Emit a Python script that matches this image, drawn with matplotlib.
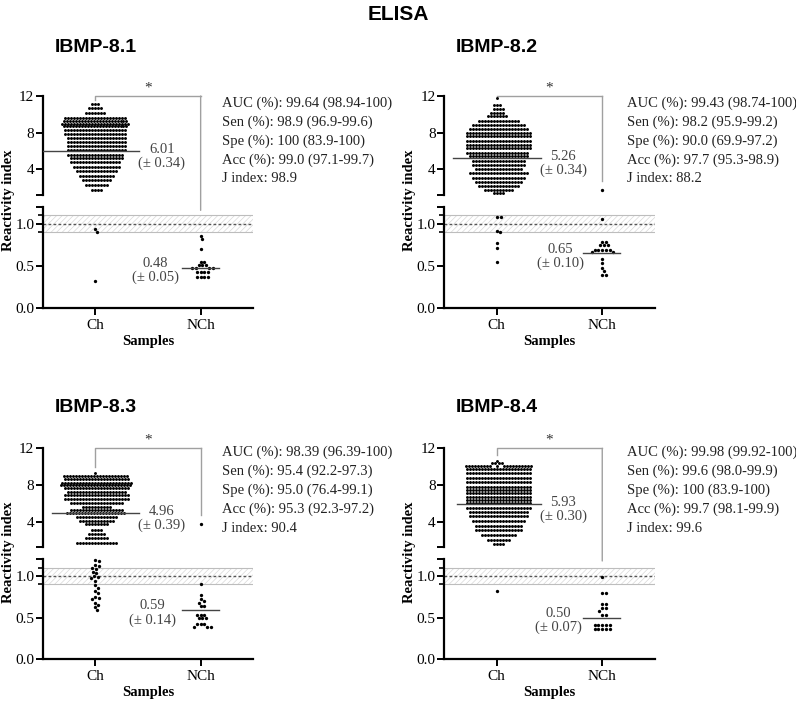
import numpy as np
import matplotlib
matplotlib.use("Agg")
import matplotlib.pyplot as plt
from matplotlib.patches import ConnectionPatch

W, H, DPI = 796, 702, 100
SERIF = ["Liberation Serif", "DejaVu Serif"]
SANS = ["Liberation Sans", "DejaVu Sans"]

TITLES = ["IBMP-8.1", "IBMP-8.2", "IBMP-8.3", "IBMP-8.4"]
GROUPS = ["Ch", "NCh"]

# Ch dots in the upper (broken) axis, read as rows: value level -> number of dots
CH1_LEVELS = [11.1, 10.7, 10.2, 9.6, 9.3, 9.0, 8.7, 8.3, 7.9, 7.4, 7.0, 6.5, 6.1,
              5.6, 5.2, 4.8, 4.3, 3.8, 3.3, 2.8, 2.3, 1.8]
CH1_COUNTS = [3, 5, 7, 21, 22, 23, 22, 21, 21, 20, 20, 20, 20, 19, 18, 17, 16, 14,
              12, 10, 8, 4]
CH2_LEVELS = [11.8, 11.05, 10.6, 10.2, 9.8, 9.25, 8.8, 8.4, 8.0, 7.6, 7.1, 6.7, 6.3,
              5.8, 5.45, 4.9, 4.5, 4.0, 3.55, 3.1, 2.65, 2.2, 1.8, 1.45]
CH2_COUNTS = [1, 3, 4, 5, 7, 14, 18, 20, 22, 22, 22, 22, 22, 21, 20, 18, 18, 16, 20,
              18, 16, 14, 10, 4]
CH3_LEVELS = [9.27, 8.98, 8.6, 8.25, 7.96, 7.64, 7.27, 6.9, 6.44, 6.0, 5.63, 5.27,
              4.98, 4.54, 4.1, 3.71, 3.1, 2.65, 2.2, 1.64]
CH3_COUNTS = [1, 22, 22, 24, 24, 22, 20, 22, 22, 18, 10, 18, 20, 14, 12, 8, 4, 6, 8, 14]
CH4_LEVELS = [10.6, 10.35, 10.1, 9.74, 9.27, 8.8, 8.3, 7.8, 7.45, 7.1, 6.7, 6.36, 6.0,
              5.52, 5.1, 4.6, 4.1, 3.56, 3.1, 2.55, 2.0, 1.53]
CH4_COUNTS = [1, 4, 20, 22, 22, 22, 22, 22, 22, 22, 22, 22, 22, 22, 20, 20, 18, 16,
              16, 12, 8, 4]

# Ch dots below the break
CH1_LOW = [0.94, 0.90, 0.32]
CH2_LOW = [1.08, 1.08, 0.91, 0.90, 0.77, 0.71, 0.55]
CH3_LOW = [1.19, 1.18, 1.13, 1.12, 1.10, 1.08, 1.05, 1.03, 1.00, 0.99, 0.97, 0.94,
           0.89, 0.86, 0.82, 0.79, 0.75, 0.73, 0.72, 0.68, 0.65, 0.63, 0.59]
CH4_LOW = [0.82]

# NCh sera
NCH1 = [0.86, 0.82, 0.70, 0.55, 0.55, 0.51, 0.51, 0.51, 0.48, 0.48, 0.48, 0.48,
        0.43, 0.43, 0.43, 0.43, 0.37, 0.37, 0.37, 0.37]
NCH2 = [1.80, 1.06, 0.79, 0.79, 0.75, 0.75, 0.75, 0.69, 0.69, 0.69, 0.69, 0.69,
        0.66, 0.66, 0.58, 0.53, 0.48, 0.44, 0.39, 0.39]
NCH3 = [3.72, 0.90, 0.77, 0.72, 0.70, 0.68, 0.64, 0.64, 0.53, 0.53, 0.53, 0.49,
        0.49, 0.49, 0.42, 0.42, 0.42, 0.39, 0.39, 0.39]
NCH4 = [0.99, 0.80, 0.80, 0.66, 0.66, 0.61, 0.61, 0.58, 0.53, 0.53, 0.41, 0.41,
        0.41, 0.41, 0.41, 0.36, 0.36, 0.36, 0.36, 0.36]

CH_MEAN = [6.01, 5.26, 4.96, 5.93]
CH_SEM = [0.34, 0.34, 0.39, 0.30]
NCH_MEAN = [0.48, 0.65, 0.59, 0.50]
NCH_SEM = [0.05, 0.10, 0.14, 0.07]
CUTOFF = 1.0
GRAY_ZONE = (0.9, 1.1)

STATS = [
    ["AUC (%): 99.64 (98.94-100)", "Sen (%): 98.9 (96.9-99.6)",
     "Spe (%): 100 (83.9-100)", "Acc (%): 99.0 (97.1-99.7)", "J index: 98.9"],
    ["AUC (%): 99.43 (98.74-100)", "Sen (%): 98.2 (95.9-99.2)",
     "Spe (%): 90.0 (69.9-97.2)", "Acc (%): 97.7 (95.3-98.9)", "J index: 88.2"],
    ["AUC (%): 98.39 (96.39-100)", "Sen (%): 95.4 (92.2-97.3)",
     "Spe (%): 95.0 (76.4-99.1)", "Acc (%): 95.3 (92.3-97.2)", "J index: 90.4"],
    ["AUC (%): 99.98 (99.92-100)", "Sen (%): 99.6 (98.0-99.9)",
     "Spe (%): 100 (83.9-100)", "Acc (%): 99.7 (98.1-99.9)", "J index: 99.6"],
]

# layout in pixels: x0, x1, upper top, upper bottom, lower top, lower bottom
BOXES = [(42.7, 253.3, 96, 195, 207, 308),
         (444, 655, 96, 195, 207, 308),
         (42.7, 253.3, 448.3, 547.3, 559.3, 659.3),
         (444, 655, 448.3, 547.3, 559.3, 659.3)]
TITLE_XY = [(96, 47), (497, 47), (96, 407), (497, 407)]
STATS_XY = [(222, 103), (627, 103), (222, 452), (627, 452)]
CH_LINE = [(-0.5, 0.41), (-0.41, 0.42), (-0.41, 0.41), (-0.38, 0.42)]
NCH_LINE = (-0.18, 0.17)
NCH_TXT_X = [0.57, 0.60, 0.54, 0.58]
DROP_CH = [11.6, 11.95, 10.0, 11.3]
DROP_NCH = [("lo", 1.16), ("up", 2.7), ("up", 4.7), ("lo", 1.18)]

UP_LIM = (1.2, 12)
LO_LIM = (0, 1.2)
XPPU = 105.5     # pixels per x unit


def swarm(vals, ppu, d):
    ys = np.asarray(vals, dtype=float) * ppu
    xs = np.zeros(len(ys))
    placed = []
    for i in np.argsort(-ys, kind="stable"):
        y = ys[i]
        near = [(xj, yj) for xj, yj in placed if abs(yj - y) < d]
        cands = [0.0]
        for xj, yj in near:
            dx = np.sqrt(d * d - (yj - y) ** 2)
            cands += [xj + dx, xj - dx]
        cands.sort(key=abs)
        for c in cands:
            if all((c - xj) ** 2 + (y - yj) ** 2 >= d * d - 1e-6 for xj, yj in near):
                xs[i] = c
                break
        placed.append((xs[i], y))
    return xs / XPPU


def rect(x0, x1, top, bot):
    return [x0 / W, 1 - bot / H, (x1 - x0) / W, (bot - top) / H]


plt.rcParams.update({"font.family": SERIF, "font.size": 10.5,
                     "hatch.linewidth": 0.5})

fig = plt.figure(figsize=(W / DPI, H / DPI), dpi=DPI)
fig.text(398 / W, 1 - 14 / H, "ELISA", family=SANS, fontweight="bold",
         fontsize=15, ha="center", va="center")

ch_levels = [CH1_LEVELS, CH2_LEVELS, CH3_LEVELS, CH4_LEVELS]
ch_counts = [CH1_COUNTS, CH2_COUNTS, CH3_COUNTS, CH4_COUNTS]
ch_low = [CH1_LOW, CH2_LOW, CH3_LOW, CH4_LOW]
nch = [NCH1, NCH2, NCH3, NCH4]
dot = dict(marker="o", ls="none", color="black", mec="none", clip_on=False, zorder=3)

for k in range(4):
    x0, x1, ut, ub, lt, lb = BOXES[k]
    ax_up = fig.add_axes(rect(x0, x1, ut, ub))
    ax_lo = fig.add_axes(rect(x0, x1, lt, lb))
    up_ppu = (ub - ut) / (UP_LIM[1] - UP_LIM[0])
    lo_ppu = (lb - lt) / (LO_LIM[1] - LO_LIM[0])

    for ax in (ax_up, ax_lo):
        ax.set_xlim(-0.5, 1.5)
        ax.patch.set_alpha(0)
        for s in ("top", "right"):
            ax.spines[s].set_visible(False)
        ax.spines["left"].set_linewidth(1.6)
        ax.spines["bottom"].set_linewidth(1.6)
        ax.tick_params(direction="out", length=5, width=1.4, labelsize=11, pad=1)

    ax_up.set_ylim(*UP_LIM)
    ax_up.spines["bottom"].set_visible(False)
    ax_up.set_xticks([])
    ax_up.set_yticks([UP_LIM[0], 4, 8, 12], ["", "4", "8", "12"])

    ax_lo.set_ylim(*LO_LIM)
    ax_lo.set_yticks([0, 0.5, 1.0, 1.2], ["0.0", "0.5", "1.0", ""])
    ax_lo.set_yticks(list(GRAY_ZONE), minor=True)
    ax_lo.tick_params(axis="y", which="minor", length=3.5, width=1.2)
    ax_lo.set_xticks([0, 1], GROUPS)
    ax_lo.tick_params(axis="x", pad=3)

    # gray zone
    ax_lo.axhspan(*GRAY_ZONE, facecolor="none", edgecolor="#d8d8d8",
                  hatch="//////", linewidth=0, zorder=0)
    for v in GRAY_ZONE:
        ax_lo.axhline(v, color="#bdbdbd", lw=0.8, zorder=1)
    ax_lo.axhline(CUTOFF, color="#555555", lw=1.0, ls=(0, (2, 1.6)), zorder=1)

    # Ch dots
    ch_up = np.repeat(ch_levels[k], ch_counts[k])
    ax_up.plot(swarm(ch_up, up_ppu, 3.0), ch_up, ms=2.1, **dot)
    lo = np.asarray(ch_low[k])
    ax_lo.plot(swarm(lo, lo_ppu, 3.8), lo, ms=2.4, **dot)

    # NCh dots
    v = np.asarray(nch[k])
    hi, low = v[v > LO_LIM[1]], v[v <= LO_LIM[1]]
    if len(hi):
        ax_up.plot(1 + swarm(hi, up_ppu, 3.8), hi, ms=2.4, **dot)
    ax_lo.plot(1 + swarm(low, lo_ppu, 3.8), low, ms=2.4, **dot)

    # mean lines + labels
    a, b = CH_LINE[k]
    ax_up.plot([a, b], [CH_MEAN[k]] * 2, color="#444444", lw=1.0, zorder=4)
    ax_up.annotate(f"{CH_MEAN[k]:.2f}", (0.63, CH_MEAN[k]), xytext=(0, 0.7),
                   textcoords="offset points", ha="center", va="center",
                   color="#444444", fontsize=10.5)
    ax_up.annotate(f"(± {CH_SEM[k]:.2f})", (0.63, CH_MEAN[k]), xytext=(0, -9),
                   textcoords="offset points", ha="center", va="center",
                   color="#444444", fontsize=10.5)
    a, b = NCH_LINE
    ax_lo.plot([1 + a, 1 + b], [NCH_MEAN[k]] * 2, color="#444444", lw=1.0, zorder=4)
    ax_lo.annotate(f"{NCH_MEAN[k]:.2f}", (NCH_TXT_X[k], NCH_MEAN[k]), xytext=(0, 3),
                   textcoords="offset points", ha="center", va="center",
                   color="#444444", fontsize=10.5)
    ax_lo.annotate(f"(± {NCH_SEM[k]:.2f})", (NCH_TXT_X[k], NCH_MEAN[k]),
                   xytext=(0, -7), textcoords="offset points", ha="center",
                   va="center", color="#444444", fontsize=10.5)

    # significance bracket
    bc = "#a0a0a0"
    ax_up.plot([0, 0, 1], [DROP_CH[k], 12, 12], color=bc, lw=1.0, clip_on=False)
    where, end = DROP_NCH[k]
    if where == "up":
        ax_up.plot([1, 1], [12, end], color=bc, lw=1.0, clip_on=False)
    else:
        fig.add_artist(ConnectionPatch((1, 12), (1, end), "data", "data",
                                       axesA=ax_up, axesB=ax_lo, color=bc, lw=1.0))
    ax_up.annotate("*", (0.5, 12), xytext=(0, 1), textcoords="offset points",
                   ha="center", va="bottom", fontsize=11, color="#333333")

    # titles and labels
    tx, ty = TITLE_XY[k]
    fig.text(tx / W, 1 - ty / H, TITLES[k], family=SANS, fontweight="bold",
             fontsize=14, ha="center", va="center")
    fig.text((x0 - 34.5) / W, 1 - ((ut + lb) / 2 - 2) / H, "Reactivity index",
             rotation=90, fontweight="bold", ha="center", va="center", fontsize=10.5)
    fig.text((x0 + x1) / 2 / W, 1 - (lb + 33) / H, "Samples", fontweight="bold",
             ha="center", va="center", fontsize=10.5)
    sx, sy = STATS_XY[k]
    for j, line in enumerate(STATS[k]):
        fig.text(sx / W, 1 - (sy + 19 * j) / H, line, ha="left", va="center",
                 color="#222222", fontsize=10.5)

fig.savefig("out.png", dpi=DPI)
